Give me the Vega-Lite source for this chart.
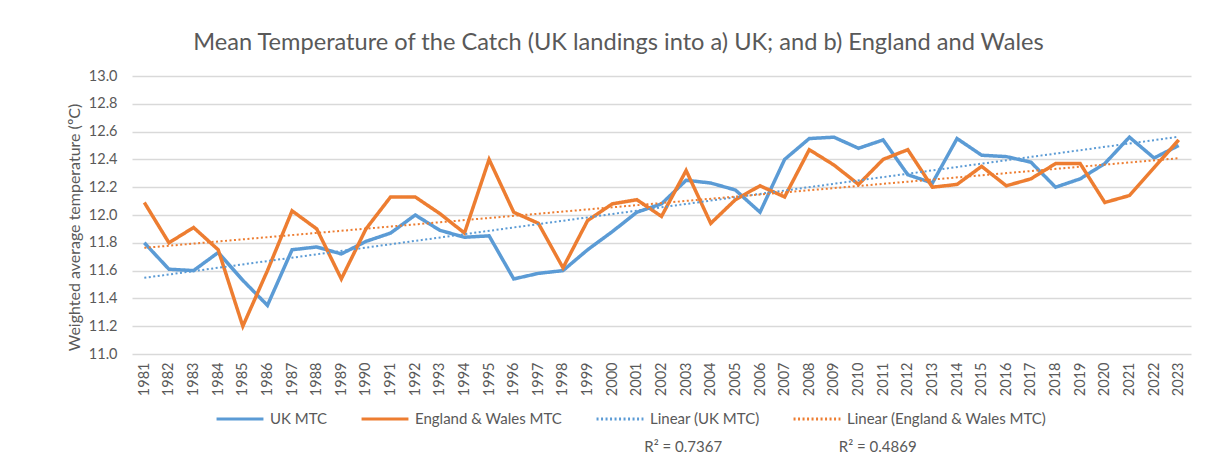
{
  "$schema": "https://vega.github.io/schema/vega-lite/v6.json",
  "autosize": {"type": "none"},
  "width": 1059,
  "height": 278,
  "padding": {"left": 132, "top": 76, "right": 27, "bottom": 101},
  "background": "white",
  "title": {
    "text": "Mean Temperature  of the Catch (UK landings into a) UK; and b) England and Wales",
    "font": "Lato",
    "fontSize": 23.6,
    "fontWeight": "normal",
    "color": "#595959",
    "anchor": "middle",
    "dx": -43,
    "offset": 13
  },
  "config": {
    "view": {"stroke": null},
    "font": "Lato",
    "axis": {"labelColor": "#595959", "titleColor": "#595959", "labelFont": "Lato", "titleFont": "Lato"},
    "axisX": {"format": "d", "labelAngle": 270, "grid": false, "ticks": false, "domain": false,
      "labelFontSize": 14.5, "labelPadding": 8, "labelOverlap": false, "labelFlush": false},
    "axisY": {"format": ".1f", "grid": true, "gridColor": "#d9d9d9", "gridWidth": 1.3, "labelOverlap": false,
      "ticks": false, "domain": false, "labelFontSize": 14.5, "labelPadding": 15,
      "titleFontSize": 16, "titleFontWeight": "normal", "titlePadding": 6, "titleY": 151},
    "legend": {"labelFont": "Lato"}
  },
  "data": {
    "values": [
      {"year": 1981, "series": "UK MTC", "temp": 11.80},
      {"year": 1982, "series": "UK MTC", "temp": 11.61},
      {"year": 1983, "series": "UK MTC", "temp": 11.60},
      {"year": 1984, "series": "UK MTC", "temp": 11.73},
      {"year": 1985, "series": "UK MTC", "temp": 11.53},
      {"year": 1986, "series": "UK MTC", "temp": 11.35},
      {"year": 1987, "series": "UK MTC", "temp": 11.75},
      {"year": 1988, "series": "UK MTC", "temp": 11.77},
      {"year": 1989, "series": "UK MTC", "temp": 11.72},
      {"year": 1990, "series": "UK MTC", "temp": 11.81},
      {"year": 1991, "series": "UK MTC", "temp": 11.87},
      {"year": 1992, "series": "UK MTC", "temp": 12.00},
      {"year": 1993, "series": "UK MTC", "temp": 11.89},
      {"year": 1994, "series": "UK MTC", "temp": 11.84},
      {"year": 1995, "series": "UK MTC", "temp": 11.85},
      {"year": 1996, "series": "UK MTC", "temp": 11.54},
      {"year": 1997, "series": "UK MTC", "temp": 11.58},
      {"year": 1998, "series": "UK MTC", "temp": 11.60},
      {"year": 1999, "series": "UK MTC", "temp": 11.75},
      {"year": 2000, "series": "UK MTC", "temp": 11.88},
      {"year": 2001, "series": "UK MTC", "temp": 12.02},
      {"year": 2002, "series": "UK MTC", "temp": 12.08},
      {"year": 2003, "series": "UK MTC", "temp": 12.25},
      {"year": 2004, "series": "UK MTC", "temp": 12.23},
      {"year": 2005, "series": "UK MTC", "temp": 12.18},
      {"year": 2006, "series": "UK MTC", "temp": 12.02},
      {"year": 2007, "series": "UK MTC", "temp": 12.40},
      {"year": 2008, "series": "UK MTC", "temp": 12.55},
      {"year": 2009, "series": "UK MTC", "temp": 12.56},
      {"year": 2010, "series": "UK MTC", "temp": 12.48},
      {"year": 2011, "series": "UK MTC", "temp": 12.54},
      {"year": 2012, "series": "UK MTC", "temp": 12.29},
      {"year": 2013, "series": "UK MTC", "temp": 12.23},
      {"year": 2014, "series": "UK MTC", "temp": 12.55},
      {"year": 2015, "series": "UK MTC", "temp": 12.43},
      {"year": 2016, "series": "UK MTC", "temp": 12.42},
      {"year": 2017, "series": "UK MTC", "temp": 12.38},
      {"year": 2018, "series": "UK MTC", "temp": 12.20},
      {"year": 2019, "series": "UK MTC", "temp": 12.26},
      {"year": 2020, "series": "UK MTC", "temp": 12.37},
      {"year": 2021, "series": "UK MTC", "temp": 12.56},
      {"year": 2022, "series": "UK MTC", "temp": 12.41},
      {"year": 2023, "series": "UK MTC", "temp": 12.50},
      {"year": 1981, "series": "England & Wales MTC", "temp": 12.09},
      {"year": 1982, "series": "England & Wales MTC", "temp": 11.80},
      {"year": 1983, "series": "England & Wales MTC", "temp": 11.91},
      {"year": 1984, "series": "England & Wales MTC", "temp": 11.75},
      {"year": 1985, "series": "England & Wales MTC", "temp": 11.20},
      {"year": 1986, "series": "England & Wales MTC", "temp": 11.60},
      {"year": 1987, "series": "England & Wales MTC", "temp": 12.03},
      {"year": 1988, "series": "England & Wales MTC", "temp": 11.90},
      {"year": 1989, "series": "England & Wales MTC", "temp": 11.54},
      {"year": 1990, "series": "England & Wales MTC", "temp": 11.90},
      {"year": 1991, "series": "England & Wales MTC", "temp": 12.13},
      {"year": 1992, "series": "England & Wales MTC", "temp": 12.13},
      {"year": 1993, "series": "England & Wales MTC", "temp": 12.01},
      {"year": 1994, "series": "England & Wales MTC", "temp": 11.87},
      {"year": 1995, "series": "England & Wales MTC", "temp": 12.40},
      {"year": 1996, "series": "England & Wales MTC", "temp": 12.02},
      {"year": 1997, "series": "England & Wales MTC", "temp": 11.94},
      {"year": 1998, "series": "England & Wales MTC", "temp": 11.62},
      {"year": 1999, "series": "England & Wales MTC", "temp": 11.96},
      {"year": 2000, "series": "England & Wales MTC", "temp": 12.08},
      {"year": 2001, "series": "England & Wales MTC", "temp": 12.11},
      {"year": 2002, "series": "England & Wales MTC", "temp": 11.99},
      {"year": 2003, "series": "England & Wales MTC", "temp": 12.32},
      {"year": 2004, "series": "England & Wales MTC", "temp": 11.94},
      {"year": 2005, "series": "England & Wales MTC", "temp": 12.11},
      {"year": 2006, "series": "England & Wales MTC", "temp": 12.21},
      {"year": 2007, "series": "England & Wales MTC", "temp": 12.13},
      {"year": 2008, "series": "England & Wales MTC", "temp": 12.47},
      {"year": 2009, "series": "England & Wales MTC", "temp": 12.36},
      {"year": 2010, "series": "England & Wales MTC", "temp": 12.22},
      {"year": 2011, "series": "England & Wales MTC", "temp": 12.40},
      {"year": 2012, "series": "England & Wales MTC", "temp": 12.47},
      {"year": 2013, "series": "England & Wales MTC", "temp": 12.20},
      {"year": 2014, "series": "England & Wales MTC", "temp": 12.22},
      {"year": 2015, "series": "England & Wales MTC", "temp": 12.35},
      {"year": 2016, "series": "England & Wales MTC", "temp": 12.21},
      {"year": 2017, "series": "England & Wales MTC", "temp": 12.26},
      {"year": 2018, "series": "England & Wales MTC", "temp": 12.37},
      {"year": 2019, "series": "England & Wales MTC", "temp": 12.37},
      {"year": 2020, "series": "England & Wales MTC", "temp": 12.09},
      {"year": 2021, "series": "England & Wales MTC", "temp": 12.14},
      {"year": 2022, "series": "England & Wales MTC", "temp": 12.34},
      {"year": 2023, "series": "England & Wales MTC", "temp": 12.54}
    ]
  },
  "layer": [
    {
      "mark": {"type": "line", "strokeWidth": 3.5},
      "encoding": {
        "x": {
          "field": "year", "type": "quantitative",
          "scale": {"domain": [1980.5, 2023.5], "nice": false, "zero": false},
          "axis": {"title": null, "values": [1981,1982,1983,1984,1985,1986,1987,1988,1989,1990,1991,1992,1993,1994,1995,1996,1997,1998,1999,2000,2001,2002,2003,2004,2005,2006,2007,2008,2009,2010,2011,2012,2013,2014,2015,2016,2017,2018,2019,2020,2021,2022,2023]}
        },
        "y": {
          "field": "temp", "type": "quantitative",
          "scale": {"domain": [11, 13], "nice": false, "zero": false},
          "axis": {"title": "Weighted average temperature (ºC)", "values": [11, 11.2, 11.4, 11.6, 11.8, 12, 12.2, 12.4, 12.6, 12.8, 13]}
        },
        "color": {
          "field": "series", "type": "nominal",
          "scale": {
            "domain": ["UK MTC", "England & Wales MTC", "Linear (UK MTC)", "Linear (England & Wales MTC)"],
            "range": ["#5B9BD5", "#ED7D31", "#5B9BD5", "#ED7D31"]
          },
          "legend": {
            "title": null, "orient": "none", "direction": "horizontal",
            "legendX": 83, "legendY": 318,
            "symbolType": "stroke", "symbolSize": 2200, "symbolStrokeWidth": 3,
            "labelFontSize": 15, "labelColor": "#595959", "labelOffset": 5, "columnPadding": 27, "labelLimit": 400
          }
        },
        "strokeDash": {
          "field": "series", "type": "nominal",
          "scale": {
            "domain": ["UK MTC", "England & Wales MTC", "Linear (UK MTC)", "Linear (England & Wales MTC)"],
            "range": [[1, 0], [1, 0], [2, 2.5], [2, 2.5]]
          },
          "legend": null
        }
      }
    },
    {
      "transform": [
        {"filter": "datum.series === 'UK MTC'"},
        {"regression": "temp", "on": "year", "method": "linear"}
      ],
      "mark": {"type": "line", "strokeWidth": 2},
      "encoding": {
        "x": {"field": "year", "type": "quantitative", "axis": {"title": null, "values": [1981,1982,1983,1984,1985,1986,1987,1988,1989,1990,1991,1992,1993,1994,1995,1996,1997,1998,1999,2000,2001,2002,2003,2004,2005,2006,2007,2008,2009,2010,2011,2012,2013,2014,2015,2016,2017,2018,2019,2020,2021,2022,2023]}},
        "y": {"field": "temp", "type": "quantitative", "axis": {"title": "Weighted average temperature (ºC)", "values": [11, 11.2, 11.4, 11.6, 11.8, 12, 12.2, 12.4, 12.6, 12.8, 13]}},
        "color": {"datum": "Linear (UK MTC)", "type": "nominal"},
        "strokeDash": {"datum": "Linear (UK MTC)", "type": "nominal"}
      }
    },
    {
      "transform": [
        {"filter": "datum.series === 'England & Wales MTC'"},
        {"regression": "temp", "on": "year", "method": "linear"}
      ],
      "mark": {"type": "line", "strokeWidth": 2},
      "encoding": {
        "x": {"field": "year", "type": "quantitative", "axis": {"title": null, "values": [1981,1982,1983,1984,1985,1986,1987,1988,1989,1990,1991,1992,1993,1994,1995,1996,1997,1998,1999,2000,2001,2002,2003,2004,2005,2006,2007,2008,2009,2010,2011,2012,2013,2014,2015,2016,2017,2018,2019,2020,2021,2022,2023]}},
        "y": {"field": "temp", "type": "quantitative", "axis": {"title": "Weighted average temperature (ºC)", "values": [11, 11.2, 11.4, 11.6, 11.8, 12, 12.2, 12.4, 12.6, 12.8, 13]}},
        "color": {"datum": "Linear (England & Wales MTC)", "type": "nominal"},
        "strokeDash": {"datum": "Linear (England & Wales MTC)", "type": "nominal"}
      }
    },
    {
      "data": {"values": [{"label": "R² = 0.7367"}]},
      "mark": {"type": "text", "align": "left", "baseline": "middle", "fontSize": 15, "color": "#595959", "font": "Lato", "clip": false},
      "encoding": {
        "x": {"datum": 2001.3, "axis": {"title": null, "values": [1981,1982,1983,1984,1985,1986,1987,1988,1989,1990,1991,1992,1993,1994,1995,1996,1997,1998,1999,2000,2001,2002,2003,2004,2005,2006,2007,2008,2009,2010,2011,2012,2013,2014,2015,2016,2017,2018,2019,2020,2021,2022,2023]}},
        "y": {"datum": 10.33, "axis": {"title": "Weighted average temperature (ºC)", "values": [11, 11.2, 11.4, 11.6, 11.8, 12, 12.2, 12.4, 12.6, 12.8, 13]}},
        "text": {"field": "label"}
      }
    },
    {
      "data": {"values": [{"label": "R² = 0.4869"}]},
      "mark": {"type": "text", "align": "left", "baseline": "middle", "fontSize": 15, "color": "#595959", "font": "Lato", "clip": false},
      "encoding": {
        "x": {"datum": 2009.2, "axis": {"title": null, "values": [1981,1982,1983,1984,1985,1986,1987,1988,1989,1990,1991,1992,1993,1994,1995,1996,1997,1998,1999,2000,2001,2002,2003,2004,2005,2006,2007,2008,2009,2010,2011,2012,2013,2014,2015,2016,2017,2018,2019,2020,2021,2022,2023]}},
        "y": {"datum": 10.33, "axis": {"title": "Weighted average temperature (ºC)", "values": [11, 11.2, 11.4, 11.6, 11.8, 12, 12.2, 12.4, 12.6, 12.8, 13]}},
        "text": {"field": "label"}
      }
    }
  ]
}
